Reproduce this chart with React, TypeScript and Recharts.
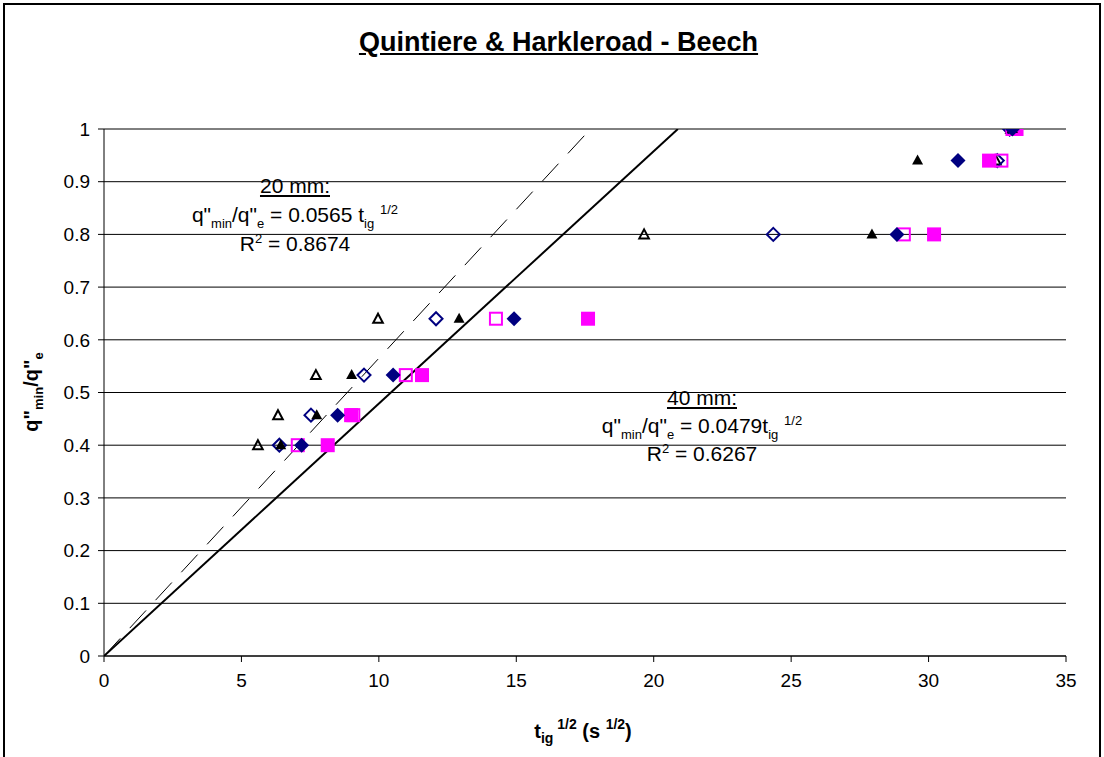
import React from 'react';
import { ScatterChart, Scatter, XAxis, YAxis, CartesianGrid } from 'recharts';

const xTicks = [0, 5, 10, 15, 20, 25, 30, 35];
const yTicks = [0, 0.1, 0.2, 0.3, 0.4, 0.5, 0.6, 0.7, 0.8, 0.9, 1];

const openTriangle = [
  { x: 5.6, y: 0.4 }, { x: 6.33, y: 0.457 }, { x: 7.71, y: 0.533 }, { x: 9.97, y: 0.64 },
  { x: 19.65, y: 0.8 }, { x: 32.45, y: 0.94 }, { x: 33.0, y: 1.0 },
];
const openDiamond = [
  { x: 6.38, y: 0.4 }, { x: 7.53, y: 0.457 }, { x: 9.46, y: 0.533 }, { x: 12.08, y: 0.64 },
  { x: 24.35, y: 0.8 }, { x: 32.5, y: 0.94 }, { x: 32.95, y: 1.0 },
];
const openSquare = [
  { x: 7.05, y: 0.4 }, { x: 9.07, y: 0.457 }, { x: 10.98, y: 0.533 }, { x: 14.26, y: 0.64 },
  { x: 29.1, y: 0.8 }, { x: 32.65, y: 0.94 }, { x: 33.05, y: 1.0 },
];
const filledTriangle = [
  { x: 6.43, y: 0.4 }, { x: 7.74, y: 0.457 }, { x: 9.01, y: 0.533 }, { x: 12.92, y: 0.64 },
  { x: 27.94, y: 0.8 }, { x: 29.6, y: 0.94 }, { x: 33.05, y: 1.0 },
];
const filledDiamond = [
  { x: 7.19, y: 0.4 }, { x: 8.5, y: 0.457 }, { x: 10.52, y: 0.533 }, { x: 14.92, y: 0.64 },
  { x: 28.85, y: 0.8 }, { x: 31.07, y: 0.94 }, { x: 33.05, y: 1.0 },
];
const filledSquare = [
  { x: 8.14, y: 0.4 }, { x: 8.99, y: 0.457 }, { x: 11.57, y: 0.533 }, { x: 17.61, y: 0.64 },
  { x: 30.2, y: 0.8 }, { x: 32.2, y: 0.94 }, { x: 33.2, y: 1.0 },
];
const fit20 = [{ x: 0, y: 0 }, { x: 17.7, y: 1 }];
const fit40 = [{ x: 0, y: 0 }, { x: 20.88, y: 1 }];

const FONT = '"Liberation Sans", Arial, sans-serif';
const NAVY = '#000080';
const MAGENTA = '#FF00FF';

const OpenTri = (p: any) => (
  <polygon points={`${p.cx},${p.cy - 5} ${p.cx + 4.8},${p.cy + 4} ${p.cx - 4.8},${p.cy + 4}`} fill="none" stroke="#000" strokeWidth={2} />
);
const FillTri = (p: any) => (
  <polygon points={`${p.cx},${p.cy - 6} ${p.cx + 5.5},${p.cy + 4} ${p.cx - 5.5},${p.cy + 4}`} fill="#000" />
);
const OpenDia = (p: any) => (
  <polygon points={`${p.cx},${p.cy - 6.5} ${p.cx + 6.5},${p.cy} ${p.cx},${p.cy + 6.5} ${p.cx - 6.5},${p.cy}`} fill="none" stroke={NAVY} strokeWidth={2} />
);
const FillDia = (p: any) => (
  <polygon points={`${p.cx},${p.cy - 7.5} ${p.cx + 7.5},${p.cy} ${p.cx},${p.cy + 7.5} ${p.cx - 7.5},${p.cy}`} fill={NAVY} />
);
const OpenSq = (p: any) => (
  <rect x={p.cx - 6} y={p.cy - 6} width={12} height={12} fill="none" stroke={MAGENTA} strokeWidth={2} />
);
const FillSq = (p: any) => (
  <rect x={p.cx - 7} y={p.cy - 7} width={14} height={14} fill={MAGENTA} />
);
const NoDot = () => <g />;

const YLabel = () => (
  <text transform="translate(38,392) rotate(-90)" textAnchor="middle" fontWeight="bold" fontSize={20} fontFamily={FONT} fill="#000">
    <tspan>q"</tspan>
    <tspan fontSize={13} dy={5}>min</tspan>
    <tspan dy={-5}>/q"</tspan>
    <tspan fontSize={13} dy={5}>e</tspan>
  </text>
);

const XLabel = () => (
  <text x={583} y={738} textAnchor="middle" fontWeight="bold" fontSize={20} fontFamily={FONT} fill="#000">
    <tspan>t</tspan>
    <tspan fontSize={14} dy={5}>ig</tspan>
    <tspan fontSize={14} dy={-14}> 1/2</tspan>
    <tspan dy={9}> (s </tspan>
    <tspan fontSize={14} dy={-9}>1/2</tspan>
    <tspan dy={9}>)</tspan>
  </text>
);

const sub: React.CSSProperties = { fontSize: 13, position: 'relative', top: 6, lineHeight: 0 };
const sup: React.CSSProperties = { fontSize: 13, position: 'relative', top: -8, lineHeight: 0 };

export default function App() {
  return (
    <div style={{ position: 'absolute', left: 0, top: 0, width: 1104, height: 757, overflow: 'hidden', background: '#fff', fontFamily: FONT }}>
      <div style={{ position: 'absolute', left: 3, top: 3, width: 1098, height: 900, border: '2px solid #000', boxSizing: 'border-box' }} />
      <div style={{ position: 'absolute', left: 0, top: 27, width: 1117, textAlign: 'center', fontSize: 27, fontWeight: 'bold', textDecoration: 'underline' }}>
        Quintiere &amp; Harkleroad - Beech
      </div>
      <ScatterChart width={1104} height={757} margin={{ top: 129, right: 38, bottom: 61, left: 0 }} style={{ position: 'absolute', left: 0, top: 0 }}>
        <CartesianGrid vertical={false} stroke="#000" strokeWidth={1} />
        <XAxis
          type="number"
          dataKey="x"
          domain={[0, 35]}
          ticks={xTicks}
          height={40}
          stroke="#000"
          tick={{ fill: '#000', fontSize: 19, fontFamily: FONT }}
          tickMargin={12}
          tickSize={6}
          label={<XLabel />}
          allowDataOverflow
        />
        <YAxis
          type="number"
          dataKey="y"
          domain={[0, 1]}
          ticks={yTicks}
          width={104}
          stroke="#000"
          tick={{ fill: '#000', fontSize: 19, fontFamily: FONT }}
          tickMargin={8}
          tickSize={6}
          label={<YLabel />}
          allowDataOverflow
        />
        <Scatter name="20 mm fit" data={fit20} line={{ stroke: '#000', strokeWidth: 1, strokeDasharray: '24 14' }} shape={NoDot} isAnimationActive={false} />
        <Scatter name="40 mm fit" data={fit40} line={{ stroke: '#000', strokeWidth: 2 }} shape={NoDot} isAnimationActive={false} />
        <Scatter name="open triangle" data={openTriangle} shape={OpenTri} isAnimationActive={false} />
        <Scatter name="open diamond" data={openDiamond} shape={OpenDia} isAnimationActive={false} />
        <Scatter name="open square" data={openSquare} shape={OpenSq} isAnimationActive={false} />
        <Scatter name="filled square" data={filledSquare} shape={FillSq} isAnimationActive={false} />
        <Scatter name="filled triangle" data={filledTriangle} shape={FillTri} isAnimationActive={false} />
        <Scatter name="filled diamond" data={filledDiamond} shape={FillDia} isAnimationActive={false} />
      </ScatterChart>
      <div style={{ position: 'absolute', left: 145, top: 171, width: 300, textAlign: 'center', fontSize: 21, lineHeight: '29px' }}>
        <div><span style={{ textDecoration: 'underline' }}>20 mm:</span></div>
        <div>q"<span style={sub}>min</span>/q"<span style={sub}>e</span> = 0.0565 t<span style={sub}>ig</span> <span style={sup}>1/2</span></div>
        <div>R<span style={sup}>2</span> = 0.8674</div>
      </div>
      <div style={{ position: 'absolute', left: 552, top: 384, width: 300, textAlign: 'center', fontSize: 21, lineHeight: '28px' }}>
        <div><span style={{ textDecoration: 'underline' }}>40 mm:</span></div>
        <div>q"<span style={sub}>min</span>/q"<span style={sub}>e</span> = 0.0479t<span style={sub}>ig</span> <span style={sup}>1/2</span></div>
        <div>R<span style={sup}>2</span> = 0.6267</div>
      </div>
    </div>
  );
}
